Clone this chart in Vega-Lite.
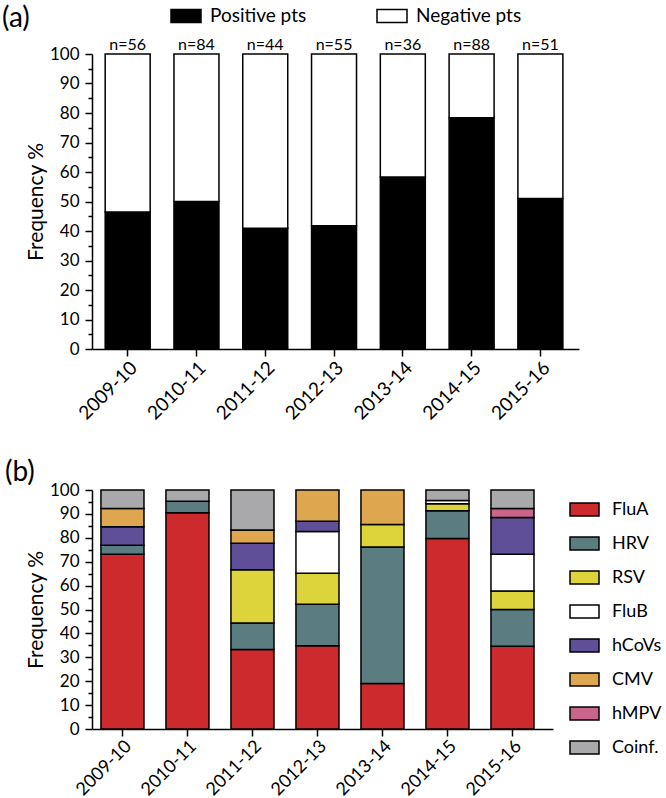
{
  "$schema": "https://vega.github.io/schema/vega-lite/v6.json",
  "padding": {"left": 2, "top": 0, "right": 0, "bottom": 0},
  "background": "white",
  "config": {
    "font": "Lato",
    "view": {"stroke": null},
    "axis": {"grid": false, "domainColor": "black", "tickColor": "black", "labelColor": "black", "titleColor": "black", "domainWidth": 1.5, "tickWidth": 1.5, "titleFontWeight": "normal"},
    "title": {"fontWeight": "normal", "color": "black"},
    "legend": {"labelColor": "black"}
  },
  "spacing": 35,
  "align": "none",
  "resolve": {"scale": {"x": "independent", "y": "independent", "color": "independent"}, "legend": {"color": "independent"}},
  "datasets": {
    "a": [
      {"season": "2009-10", "status": "Positive pts", "k": 1, "pct": 46.4},
      {"season": "2009-10", "status": "Negative pts", "k": 2, "pct": 53.6},
      {"season": "2010-11", "status": "Positive pts", "k": 1, "pct": 50.0},
      {"season": "2010-11", "status": "Negative pts", "k": 2, "pct": 50.0},
      {"season": "2011-12", "status": "Positive pts", "k": 1, "pct": 40.9},
      {"season": "2011-12", "status": "Negative pts", "k": 2, "pct": 59.1},
      {"season": "2012-13", "status": "Positive pts", "k": 1, "pct": 41.8},
      {"season": "2012-13", "status": "Negative pts", "k": 2, "pct": 58.2},
      {"season": "2013-14", "status": "Positive pts", "k": 1, "pct": 58.3},
      {"season": "2013-14", "status": "Negative pts", "k": 2, "pct": 41.7},
      {"season": "2014-15", "status": "Positive pts", "k": 1, "pct": 78.4},
      {"season": "2014-15", "status": "Negative pts", "k": 2, "pct": 21.6},
      {"season": "2015-16", "status": "Positive pts", "k": 1, "pct": 51.0},
      {"season": "2015-16", "status": "Negative pts", "k": 2, "pct": 49.0}
    ],
    "an": [
      {"season": "2009-10", "label": "n=56"},
      {"season": "2010-11", "label": "n=84"},
      {"season": "2011-12", "label": "n=44"},
      {"season": "2012-13", "label": "n=55"},
      {"season": "2013-14", "label": "n=36"},
      {"season": "2014-15", "label": "n=88"},
      {"season": "2015-16", "label": "n=51"}
    ],
    "b": [
      {"season": "2009-10", "virus": "FluA", "k": 1, "pct": 73.1},
      {"season": "2009-10", "virus": "HRV", "k": 2, "pct": 3.8},
      {"season": "2009-10", "virus": "hCoVs", "k": 5, "pct": 7.7},
      {"season": "2009-10", "virus": "CMV", "k": 6, "pct": 7.7},
      {"season": "2009-10", "virus": "Coinf.", "k": 8, "pct": 7.7},
      {"season": "2010-11", "virus": "FluA", "k": 1, "pct": 90.5},
      {"season": "2010-11", "virus": "HRV", "k": 2, "pct": 4.8},
      {"season": "2010-11", "virus": "Coinf.", "k": 8, "pct": 4.7},
      {"season": "2011-12", "virus": "FluA", "k": 1, "pct": 33.3},
      {"season": "2011-12", "virus": "HRV", "k": 2, "pct": 11.1},
      {"season": "2011-12", "virus": "RSV", "k": 3, "pct": 22.2},
      {"season": "2011-12", "virus": "hCoVs", "k": 5, "pct": 11.1},
      {"season": "2011-12", "virus": "CMV", "k": 6, "pct": 5.6},
      {"season": "2011-12", "virus": "Coinf.", "k": 8, "pct": 16.7},
      {"season": "2012-13", "virus": "FluA", "k": 1, "pct": 34.8},
      {"season": "2012-13", "virus": "HRV", "k": 2, "pct": 17.4},
      {"season": "2012-13", "virus": "RSV", "k": 3, "pct": 13.0},
      {"season": "2012-13", "virus": "FluB", "k": 4, "pct": 17.4},
      {"season": "2012-13", "virus": "hCoVs", "k": 5, "pct": 4.3},
      {"season": "2012-13", "virus": "CMV", "k": 6, "pct": 13.1},
      {"season": "2013-14", "virus": "FluA", "k": 1, "pct": 19.0},
      {"season": "2013-14", "virus": "HRV", "k": 2, "pct": 57.1},
      {"season": "2013-14", "virus": "RSV", "k": 3, "pct": 9.5},
      {"season": "2013-14", "virus": "CMV", "k": 6, "pct": 14.4},
      {"season": "2014-15", "virus": "FluA", "k": 1, "pct": 79.7},
      {"season": "2014-15", "virus": "HRV", "k": 2, "pct": 11.6},
      {"season": "2014-15", "virus": "RSV", "k": 3, "pct": 2.9},
      {"season": "2014-15", "virus": "FluB", "k": 4, "pct": 1.45},
      {"season": "2014-15", "virus": "Coinf.", "k": 8, "pct": 4.35},
      {"season": "2015-16", "virus": "FluA", "k": 1, "pct": 34.6},
      {"season": "2015-16", "virus": "HRV", "k": 2, "pct": 15.4},
      {"season": "2015-16", "virus": "RSV", "k": 3, "pct": 7.7},
      {"season": "2015-16", "virus": "FluB", "k": 4, "pct": 15.4},
      {"season": "2015-16", "virus": "hCoVs", "k": 5, "pct": 15.4},
      {"season": "2015-16", "virus": "hMPV", "k": 7, "pct": 3.8},
      {"season": "2015-16", "virus": "Coinf.", "k": 8, "pct": 7.7}
    ]
  },
  "vconcat": [
    {
      "width": 487,
      "height": 295,
      "title": {"text": "(a)", "anchor": "start", "frame": "group", "fontSize": 28, "dx": -90, "offset": -33},
      "resolve": {"axis": {"y": "independent"}},
      "layer": [
        {
          "data": {"name": "a"},
          "mark": {"type": "bar", "stroke": "black", "strokeWidth": 1.5},
          "encoding": {
            "x": {"field": "season", "type": "nominal", "scale": {"paddingInner": 0.346, "paddingOuter": 0.213, "align": 0.45},
                  "axis": {"title": null, "labelAngle": -45, "labelFontSize": 19, "tickSize": 7, "labelPadding": 2}},
            "y": {"field": "pct", "type": "quantitative", "stack": "zero", "scale": {"domain": [0, 100]},
                  "axis": {"values": [0, 10, 20, 30, 40, 50, 60, 70, 80, 90, 100], "title": "Frequency %", "titleFontSize": 21, "labelFontSize": 17, "tickSize": 7, "labelPadding": 6, "titlePadding": 3}},
            "color": {"field": "status", "type": "nominal",
                      "scale": {"domain": ["Positive pts", "Negative pts"], "range": ["#000000", "#ffffff"]},
                      "legend": {"orient": "none", "legendX": 78, "legendY": -54, "direction": "horizontal", "columns": 2, "title": null, "padding": 0,
                                 "symbolType": "M-1,-0.433H1V0.433H-1Z", "symbolSize": 900, "symbolStrokeColor": "black", "symbolStrokeWidth": 1.5,
                                 "labelFontSize": 19, "labelOffset": 8, "columnPadding": 67}},
            "order": {"field": "k", "type": "quantitative"}
          }
        },
        {
          "data": {"name": "an"},
          "mark": {"type": "text", "dy": -9, "fontSize": 16, "color": "black"},
          "encoding": {
            "x": {"field": "season", "type": "nominal"},
            "y": {"datum": 100, "type": "quantitative",
                  "axis": {"values": [5, 15, 25, 35, 45, 55, 65, 75, 85, 95], "labels": false, "domain": false, "tickSize": 4, "title": null, "orient": "left"}},
            "text": {"field": "label"}
          }
        }
      ]
    },
    {
      "width": 461,
      "height": 239,
      "title": {"text": "(b)", "anchor": "start", "frame": "group", "fontSize": 28, "dx": -87, "offset": -6},
      "resolve": {"axis": {"y": "independent"}},
      "layer": [
        {
          "data": {"name": "b"},
          "mark": {"type": "bar", "stroke": "black", "strokeWidth": 1.5},
          "encoding": {
            "x": {"field": "season", "type": "nominal", "scale": {"paddingInner": 0.338, "paddingOuter": 0.215, "align": 0.32},
                  "axis": {"title": null, "labelAngle": -45, "labelFontSize": 18, "tickSize": 7, "labelPadding": 1}},
            "y": {"field": "pct", "type": "quantitative", "stack": "zero", "scale": {"domain": [0, 100]},
                  "axis": {"values": [0, 10, 20, 30, 40, 50, 60, 70, 80, 90, 100], "title": "Frequency %", "titleFontSize": 21, "labelFontSize": 17, "tickSize": 7, "labelPadding": 6, "titlePadding": 3}},
            "color": {"field": "virus", "type": "nominal",
                      "scale": {"domain": ["FluA", "HRV", "RSV", "FluB", "hCoVs", "CMV", "hMPV", "Coinf."],
                                "range": ["#cd2a2d", "#5b7c80", "#dcd43a", "#ffffff", "#5f4f99", "#dea64f", "#c9658b", "#a9a9ac"]},
                      "legend": {"orient": "right", "offset": 12, "title": null, "padding": 4,
                                 "symbolType": "M-1,-0.448H1V0.448H-1Z", "symbolSize": 841, "symbolStrokeColor": "black", "symbolStrokeWidth": 1.5,
                                 "labelFontSize": 18, "labelOffset": 12, "rowPadding": 9}},
            "order": {"field": "k", "type": "quantitative"}
          }
        },
        {
          "data": {"name": "b"},
          "mark": {"type": "tick", "opacity": 0},
          "encoding": {
            "y": {"datum": 100, "type": "quantitative",
                  "axis": {"values": [5, 15, 25, 35, 45, 55, 65, 75, 85, 95], "labels": false, "domain": false, "tickSize": 4, "title": null, "orient": "left"}}
          }
        }
      ]
    }
  ]
}
